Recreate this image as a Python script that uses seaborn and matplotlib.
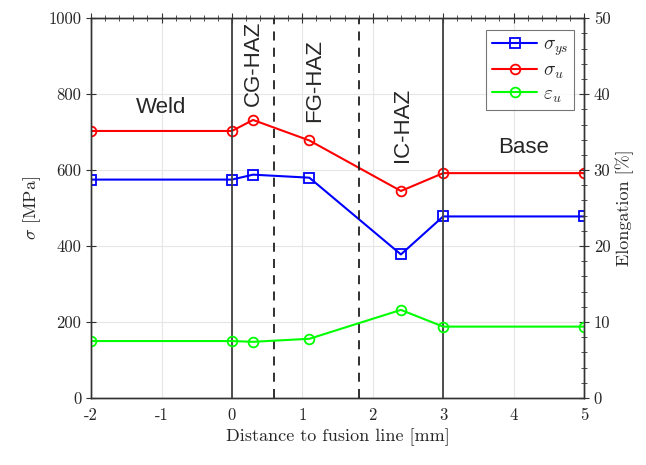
import numpy as np
import pandas as pd
import matplotlib
matplotlib.use("Agg")
import matplotlib.pyplot as plt
import seaborn as sns
from matplotlib.ticker import MultipleLocator
from matplotlib.lines import Line2D

sns.set_style("white")
plt.rcParams['font.family'] = ['cmr10', 'DejaVu Serif']
plt.rcParams['mathtext.fontset'] = 'cm'
plt.rcParams['axes.unicode_minus'] = False
plt.rcParams['axes.formatter.use_mathtext'] = False

# data
distance = [-2, 0, 0.3, 1.1, 2.4, 3, 5]
sigma_ys = [575, 575, 588, 580, 378, 478, 478]
sigma_u = [703, 703, 732, 678, 545, 592, 592]
eps_u = [7.5, 7.5, 7.4, 7.8, 11.6, 9.4, 9.4]   # elongation [%]

zone_solid = [0, 3]
zone_dashed = [0.6, 1.8]
zone_names = ["Weld", "CG-HAZ", "FG-HAZ", "IC-HAZ", "Base"]
zone_x = [-1.0, 0.30, 1.18, 2.42, 4.14]
zone_y = [766, 880, 836, 720, 660]
zone_rot = [0, 90, 90, 90, 0]

df = pd.DataFrame({"x": distance, "ys": sigma_ys, "u": sigma_u, "eps": eps_u})

fig = plt.figure(figsize=(6.46, 4.65), dpi=100)
ax = fig.add_axes([0.141, 0.144, 0.763, 0.817])
ax2 = ax.twinx()

kw = dict(linewidth=1.5, markersize=7, markerfacecolor='none', markeredgewidth=1.3)
sns.lineplot(data=df, x="x", y="ys", ax=ax, color="blue", marker="s",
             markeredgecolor="blue", **kw)
sns.lineplot(data=df, x="x", y="u", ax=ax, color="red", marker="o",
             markeredgecolor="red", **kw)
sns.lineplot(data=df, x="x", y="eps", ax=ax2, color="#00ff00", marker="o",
             markeredgecolor="#00ff00", **kw)

for xv in zone_solid:
    ax.axvline(xv, color="#404040", linewidth=1.3, zorder=5)
for xv in zone_dashed:
    ax.axvline(xv, color="#202020", linewidth=1.3, linestyle=(0, (5, 4)), zorder=5)

for name, xv, yv, r in zip(zone_names, zone_x, zone_y, zone_rot):
    ax.text(xv, yv, name, rotation=r, ha="center", va="center",
            fontsize=16, family=["Liberation Sans", "DejaVu Sans"])

ax.set_xlim(-2, 5)
ax.set_ylim(0, 1000)
ax2.set_ylim(0, 50)
ax.xaxis.set_major_locator(MultipleLocator(1))
ax.xaxis.set_minor_locator(MultipleLocator(0.2))
ax.yaxis.set_major_locator(MultipleLocator(200))
ax2.yaxis.set_major_locator(MultipleLocator(10))
ax2.yaxis.set_minor_locator(MultipleLocator(2))

ax.grid(True, which="major", color="#e6e6e6", linewidth=0.8)
ax.set_axisbelow(True)

ax.tick_params(axis="x", which="both", direction="inout", top=True, labelsize=12,
               color="#333333")
ax.tick_params(axis="x", which="major", length=7)
ax.tick_params(axis="x", which="minor", length=4)
ax.tick_params(axis="y", which="major", direction="inout", length=7, labelsize=12,
               color="#333333")
ax2.tick_params(axis="y", which="major", direction="inout", length=7, labelsize=12,
                color="#333333")
ax2.tick_params(axis="y", which="minor", direction="inout", length=4, color="#333333")

for a in (ax, ax2):
    for s in a.spines.values():
        s.set_color("#333333")
        s.set_linewidth(1.0)

ax.set_xlabel("Distance to fusion line [mm]", fontsize=13)
ax.set_ylabel(r"$\sigma$ [MPa]", fontsize=13)
ax2.set_ylabel("Elongation [%]", fontsize=13)

handles = [
    Line2D([], [], color="blue", marker="s", **kw),
    Line2D([], [], color="red", marker="o", **kw),
    Line2D([], [], color="#00ff00", marker="o", **kw),
]
labels = [r"$\sigma_{ys}$", r"$\sigma_u$", r"$\varepsilon_u$"]
leg = ax2.legend(handles, labels, loc="upper right", bbox_to_anchor=(0.98, 0.968),
                 borderaxespad=0, fontsize=14, frameon=True, fancybox=False,
                 edgecolor="#555555", handlelength=2.3, handletextpad=0.3,
                 borderpad=0.3, labelspacing=0.2)
leg.get_frame().set_linewidth(0.8)
if ax.get_legend() is not None:
    ax.get_legend().remove()

fig.savefig("out.png", dpi=100)
